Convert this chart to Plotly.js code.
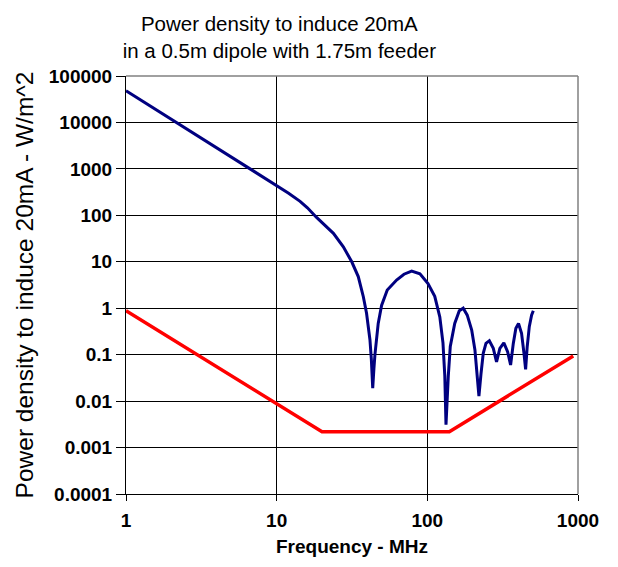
<!DOCTYPE html>
<html>
<head>
<meta charset="utf-8">
<script src="https://cdn.plot.ly/plotly-3.0.1.min.js"></script>
<style>
  html, body { margin: 0; padding: 0; background: #ffffff; }
  #chart { width: 618px; height: 567px; }
</style>
</head>
<body>
<div id="chart"></div>
<script>
// Power density needed to induce 20 mA in the dipole + feeder (W/m^2)
const dipoleFreq = [1, 1.5, 2, 3, 4, 5, 7, 10, 12, 14.3, 16, 18.4, 20, 23.8, 27.7, 31.5, 34.8,
  37.6, 39.5, 41.6, 42.5, 43.4, 44.2, 44.9, 47.2, 49.7, 54.2, 62.5, 70, 78.7, 89.3, 101, 112,
  121, 127, 130.6, 133, 135, 137.7, 142, 152, 163, 173, 184, 197, 207, 214, 220, 227, 235,
  245, 258, 274, 288, 303, 322, 341, 357, 372, 387, 403, 422, 438, 449, 460, 475, 492, 505];
const dipolePower = [48000, 21000, 11500, 5100, 2850, 1800, 900, 430, 300, 200, 145, 90, 70,
  41, 21, 10, 4.8, 1.77, 0.78, 0.21, 0.08, 0.019, 0.05, 0.1, 0.47, 1.15, 2.47, 4.05, 5.4, 6.3,
  5.5, 3.4, 1.8, 0.65, 0.18, 0.035, 0.0031, 0.012, 0.034, 0.15, 0.47, 0.88, 1.0, 0.71, 0.34,
  0.126, 0.035, 0.0128, 0.038, 0.107, 0.175, 0.2, 0.137, 0.07, 0.137, 0.18, 0.116, 0.06,
  0.175, 0.37, 0.47, 0.29, 0.107, 0.048, 0.148, 0.4, 0.71, 0.88];

// Reference limit line
const limitFreq = [1, 20, 140, 930];
const limitPower = [0.88, 0.0022, 0.0022, 0.094];

// Axis ticks
const xTickVals = [1, 10, 100, 1000];
const xTickText = ['1', '10', '100', '1000'];
const yTickVals = [0.0001, 0.001, 0.01, 0.1, 1, 10, 100, 1000, 10000, 100000];
const yTickText = ['0.0001', '0.001', '0.01', '0.1', '1', '10', '100', '1000', '10000', '100000'];

const FONT = 'Liberation Sans, Arial, sans-serif';

const traces = [
  {
    x: limitFreq, y: limitPower, type: 'scatter', mode: 'lines',
    line: { color: '#ff0000', width: 3.5 }, hoverinfo: 'skip', showlegend: false
  },
  {
    x: dipoleFreq, y: dipolePower, type: 'scatter', mode: 'lines',
    line: { color: '#000080', width: 3 }, hoverinfo: 'skip', showlegend: false
  }
];

const layout = {
  width: 618, height: 567,
  margin: { l: 126, r: 40, t: 76, b: 73 },
  paper_bgcolor: '#ffffff', plot_bgcolor: '#ffffff',
  showlegend: false,
  title: {
    text: 'Power density to induce 20mA<br>in a 0.5m dipole with 1.75m feeder',
    font: { family: FONT, size: 20.5, color: '#000000' },
    x: 0.452, xref: 'container', xanchor: 'center',
    y: 0.945, yref: 'container', yanchor: 'top'
  },
  xaxis: {
    type: 'log', range: [0, 3],
    tickvals: xTickVals, ticktext: xTickText,
    tickfont: { family: FONT, size: 19, color: '#000000', weight: 'bold' },
    ticks: 'outside', ticklen: 6, tickwidth: 1, tickcolor: '#000000',
    ticklabelstandoff: 3,
    showline: true, linecolor: '#000000', linewidth: 1,
    showgrid: true, gridcolor: '#000000', gridwidth: 1,
    zeroline: false, mirror: false,
    title: {
      text: '<b>Frequency - MHz</b>',
      font: { family: FONT, size: 19, color: '#000000' },
      standoff: 9
    }
  },
  yaxis: {
    type: 'log', range: [-4, 5],
    tickvals: yTickVals, ticktext: yTickText,
    tickfont: { family: FONT, size: 19, color: '#000000', weight: 'bold' },
    ticks: 'outside', ticklen: 9, tickwidth: 1, tickcolor: '#000000',
    showline: true, linecolor: '#000000', linewidth: 1,
    showgrid: true, gridcolor: '#000000', gridwidth: 1,
    zeroline: false, mirror: false,
    title: {
      text: 'Power density to induce 20mA - W/m^2',
      font: { family: FONT, size: 24.5, color: '#000000' },
      standoff: 8
    }
  },
  shapes: [
    { type: 'line', xref: 'paper', yref: 'paper', x0: 0, x1: 1, y0: 1, y1: 1,
      line: { color: '#808080', width: 1.5 }, layer: 'above' },
    { type: 'line', xref: 'paper', yref: 'paper', x0: 1, x1: 1, y0: 0, y1: 1,
      line: { color: '#808080', width: 1.5 }, layer: 'above' }
  ]
};

Plotly.newPlot('chart', traces, layout, { staticPlot: true, displayModeBar: false });
</script>
</body>
</html>
